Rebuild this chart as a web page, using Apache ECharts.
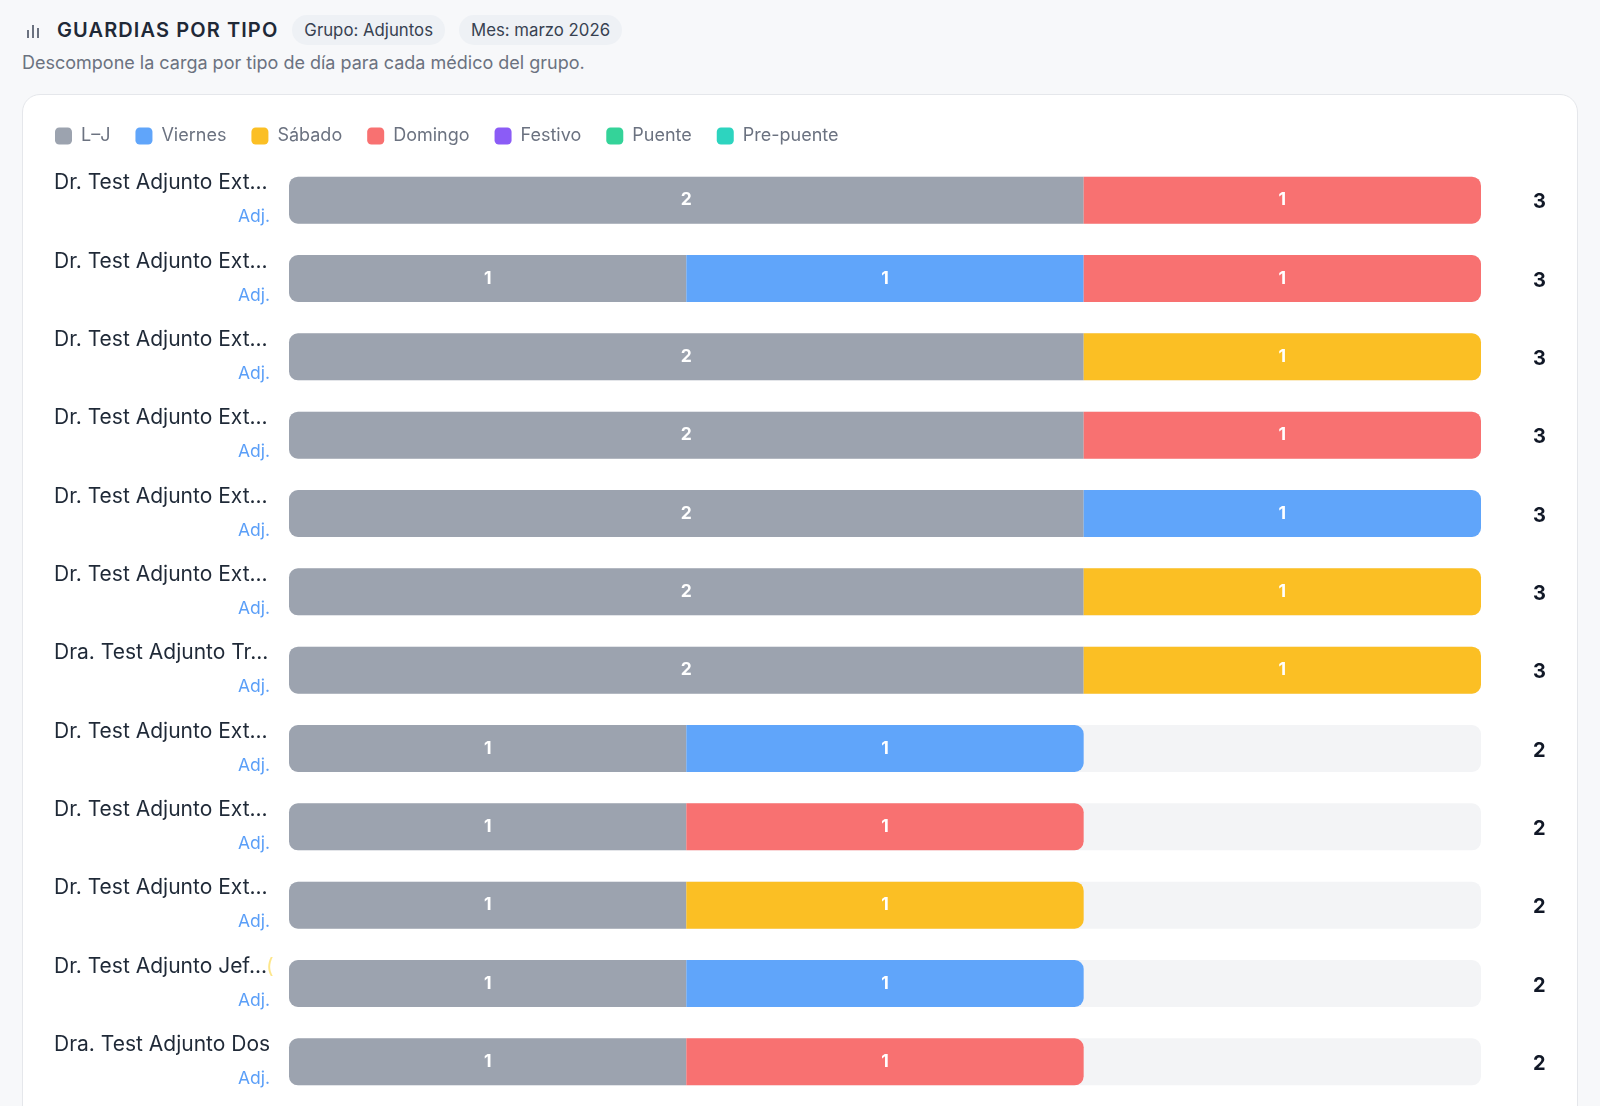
<!DOCTYPE html>
<html><head><meta charset="utf-8">
<script src="https://cdn.jsdelivr.net/npm/echarts@6/dist/echarts.min.js"></script>
<style>
html,body{margin:0;padding:0;width:1600px;height:1106px;overflow:hidden;background:#f7f8fa;font-family:Inter,"Noto Sans",sans-serif;}
#hdr{position:absolute;left:24px;top:15px;display:flex;align-items:center;height:30px;}
#ttl{font-size:20px;font-weight:600;letter-spacing:1.1px;color:#1f2937;margin-left:15px;}
.pill{font-size:16.8px;color:#374151;background:#eef1f5;border-radius:15px;height:30px;line-height:30px;padding:0 12px;margin-left:14px;}
#sub{position:absolute;left:22px;top:52px;font-size:18px;color:#6b7280;}
#card{position:absolute;left:22px;top:94px;width:1554px;height:1100px;background:#fff;border:1px solid #e5e7eb;border-radius:18px;}
#chart{position:absolute;left:0;top:0;width:1600px;height:1106px;}
</style></head>
<body>
<div id="hdr">
<svg width="18" height="18" viewBox="0 0 18 18"><rect x="3" y="9" width="2" height="8" fill="#6b7280"/><rect x="8" y="4" width="2" height="13" fill="#6b7280"/><rect x="13" y="7" width="2" height="10" fill="#6b7280"/></svg>
<span id="ttl">GUARDIAS POR TIPO</span>
<span class="pill">Grupo: Adjuntos</span>
<span class="pill">Mes: marzo 2026</span>
</div>
<div id="sub">Descompone la carga por tipo de día para cada médico del grupo.</div>
<div id="card"></div>
<div id="chart"></div>
<script>
const doctors = ["Dr. Test Adjunto Ext...","Dr. Test Adjunto Ext...","Dr. Test Adjunto Ext...","Dr. Test Adjunto Ext...","Dr. Test Adjunto Ext...","Dr. Test Adjunto Ext...","Dra. Test Adjunto Tr...","Dr. Test Adjunto Ext...","Dr. Test Adjunto Ext...","Dr. Test Adjunto Ext...","Dr. Test Adjunto Jef...","Dra. Test Adjunto Dos"];
const roles = ["Adj.","Adj.","Adj.","Adj.","Adj.","Adj.","Adj.","Adj.","Adj.","Adj.","Adj.","Adj."];
const dayTypes = ["L–J","Viernes","Sábado","Domingo","Festivo","Puente","Pre-puente"];
const lj       = [2,1,2,2,2,2,2,1,1,1,1,1];
const viernes  = [0,1,0,0,1,0,0,1,0,0,1,0];
const sabado   = [0,0,1,0,0,1,1,0,0,1,0,0];
const domingo  = [1,1,0,1,0,0,0,0,1,0,0,1];
const festivo  = [0,0,0,0,0,0,0,0,0,0,0,0];
const puente   = [0,0,0,0,0,0,0,0,0,0,0,0];
const prepuente= [0,0,0,0,0,0,0,0,0,0,0,0];
const colors = ["#9ca3af","#60a5fa","#fbbf24","#f87171","#8b5cf6","#34d399","#2dd4bf"];
const xMax = 3;

const seriesVals = [lj,viernes,sabado,domingo,festivo,puente,prepuente];
const totals = doctors.map((_,i)=>seriesVals.reduce((s,a)=>s+a[i],0));
const R = 9, BW = 47;
const series = [{
  name:'track', type:'bar', barWidth:BW, barGap:'-100%', silent:true, z:1,
  data: doctors.map(()=>xMax),
  itemStyle:{color:'#f3f4f6',borderRadius:R},
  label:{show:true,position:'right',distance:52,offset:[0,2],formatter:p=>totals[p.dataIndex],fontSize:20,fontWeight:'bold',color:'#111827',fontFamily:'Inter'},
  legendHoverLink:false
}];
seriesVals.forEach((arr,si)=>{
  series.push({
    name:dayTypes[si], type:'bar', stack:'t', barWidth:BW, z:2,
    itemStyle:{color:colors[si]},
    label:{show:true,position:'inside',color:'#fff',fontWeight:'bold',fontSize:17.5,fontFamily:'Inter',formatter:p=>p.value>0?p.value:''},
    data: arr.map((v,i)=>{
      if(!v) return {value:0,label:{show:false}};
      const nz = seriesVals.map(a=>a[i]).map((x,k)=>x>0?k:-1).filter(k=>k>=0);
      const first = nz[0]===si, last = nz[nz.length-1]===si;
      return {value:v,itemStyle:{borderRadius:[first?R:0,last?R:0,last?R:0,first?R:0]}};
    })
  });
});
const chart = echarts.init(document.getElementById('chart'),null,{renderer:'canvas'});
chart.setOption({
  animation:false,
  backgroundColor:'transparent',
  legend:{data:dayTypes,left:50,top:122,icon:'roundRect',itemWidth:17,itemHeight:17,itemGap:25,
    textStyle:{fontSize:18,color:'#6b7280',fontFamily:'Inter',padding:[0,0,0,4]}},
  grid:{left:289,right:119,top:161,bottom:5,containLabel:false},
  xAxis:{type:'value',min:0,max:xMax,show:false},
  yAxis:{type:'category',inverse:true,data:doctors,axisLine:{show:false},axisTick:{show:false},
    axisLabel:{align:'left',margin:235,
      formatter:(v,i)=>(v.indexOf('Jef')>=0?'{nj|'+v+'}{y|(}':'{n|'+v+'}')+'\n{a|'+roles[i]+'}',
      rich:{n:{fontSize:21,color:'#1f2937',lineHeight:34,width:216,align:'left',fontFamily:'Inter'},
            nj:{fontSize:21,color:'#1f2937',lineHeight:34,width:212,align:'left',fontFamily:'Inter'},
            y:{fontSize:21,color:'#fde68a',lineHeight:34,width:4,align:'left',fontFamily:'Inter'},
            a:{fontSize:17.5,color:'#5b9ff8',width:216,align:'right',lineHeight:34,fontFamily:'Inter'}}}},
  series:series
});
</script>
</body></html>
